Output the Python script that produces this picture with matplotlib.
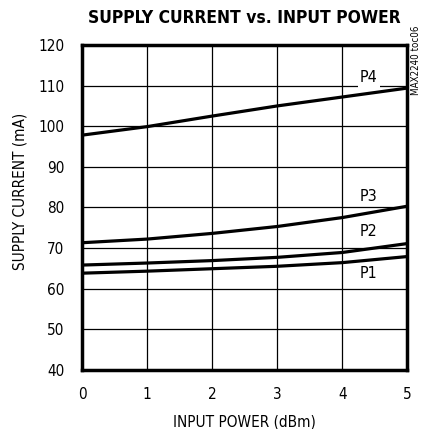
import numpy as np
import matplotlib.pyplot as plt
from matplotlib import font_manager

# fuente condensada si existe, si no Liberation Sans
condensada = [f for f in font_manager.fontManager.ttflist
              if f.name == "DejaVu Sans" and f.stretch == "condensed"]
if condensada:
    plt.rcParams['font.family'] = ['DejaVu Sans']
    plt.rcParams['font.stretch'] = 'condensed'
else:
    plt.rcParams['font.family'] = ['Liberation Sans', 'DejaVu Sans']

# datos
potencia = [0, 1, 2, 3, 4, 5]  # dBm
p1 = [63.8, 64.3, 64.9, 65.5, 66.4, 67.9]
p2 = [65.8, 66.3, 66.9, 67.7, 68.9, 71.1]
p3 = [71.3, 72.2, 73.6, 75.3, 77.5, 80.3]
p4 = [97.8, 99.9, 102.5, 105.0, 107.2, 109.4]
curvas = [p1, p2, p3, p4]
nombres = ["P1", "P2", "P3", "P4"]
pos_etiqueta = [(4.41, 63.6), (4.41, 74.1), (4.41, 82.7), (4.41, 111.9)]

xticks = [0, 1, 2, 3, 4, 5]
yticks = [40, 50, 60, 70, 80, 90, 100, 110, 120]

fig = plt.figure(figsize=(4.27, 4.29), dpi=100)
ax = fig.add_axes([0.192, 0.138, 0.762, 0.757])

for y in curvas:
    ax.plot(potencia, y, color="black", lw=2.3, zorder=3)

# etiquetas con fondo blanco que cortan la rejilla
for nom, (x, y) in zip(nombres, pos_etiqueta):
    ax.text(x, y, nom, fontsize=11.5, ha="center", va="center", zorder=2.5,
            bbox=dict(facecolor="white", edgecolor="none", pad=1.5))

ax.set_xlim(0, 5)
ax.set_ylim(40, 120)
ax.set_xticks(xticks)
ax.set_yticks(yticks)
ax.grid(True, color="black", lw=0.9)
ax.set_axisbelow(True)
ax.tick_params(length=0, labelsize=11, pad=12.5)
for s in ax.spines.values():
    s.set_linewidth(2.5)
    s.set_zorder(5)

ax.set_xlabel("INPUT POWER (dBm)", fontsize=11, labelpad=9)
ax.set_ylabel("SUPPLY CURRENT (mA)", fontsize=11)
ax.yaxis.set_label_coords(-0.166, 0.55)
fig.text(0.572, 0.957, "SUPPLY CURRENT vs. INPUT POWER", ha="center", va="center",
         fontsize=12.5, fontweight="bold")
fig.text(0.974, 0.94, "MAX2240 toc06", rotation=90, ha="center", va="top", fontsize=7)

fig.savefig("out.png", dpi=100)
